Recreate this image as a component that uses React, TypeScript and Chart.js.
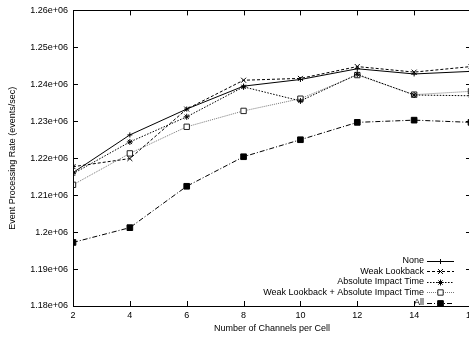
import React, { useEffect, useRef } from "react";
import { Chart, registerables } from "chart.js";
import { drawPoint } from "chart.js/helpers";

Chart.register(...registerables);

const channels = [2, 4, 6, 8, 10, 12, 14, 16];
const seriesNone = [1216100, 1226300, 1233300, 1239500, 1241300, 1244200, 1242800, 1243500];
const seriesWeak = [1217700, 1219900, 1233300, 1241100, 1241600, 1244800, 1243300, 1244800];
const seriesAbs = [1215800, 1224400, 1231200, 1239300, 1235500, 1242700, 1237100, 1236900];
const seriesWeakAbs = [1212800, 1221300, 1228500, 1232800, 1236100, 1242500, 1237200, 1238100];
const seriesAll = [1197200, 1201200, 1212400, 1220400, 1225000, 1229700, 1230300, 1229700];
const seriesNames = [
  "None",
  "Weak Lookback",
  "Absolute Impact Time",
  "Weak Lookback + Absolute Impact Time",
  "All",
];
const yTicks = [1180000, 1190000, 1200000, 1210000, 1220000, 1230000, 1240000, 1250000, 1260000];
const xTicks = [2, 4, 6, 8, 10, 12, 14, 16];

const FONT = "'Liberation Sans', Arial, Helvetica, sans-serif";

function fmt(v: number): string {
  return v.toExponential().replace(/e\+(\d)$/, "e+0$1");
}

const gnuplotPlugin = {
  id: "gnuplotDeco",
  afterDatasetsDraw(chart: any) {
    const { ctx, chartArea: a, scales } = chart;
    const xs = scales.x;
    const ys = scales.y;
    ctx.save();
    ctx.strokeStyle = "#000";
    ctx.lineWidth = 1;
    ctx.setLineDash([]);
    ctx.strokeRect(Math.round(a.left) + 0.5, Math.round(a.top) + 0.5, Math.round(a.right - a.left), Math.round(a.bottom - a.top));
    const tl = 5;
    ctx.beginPath();
    for (const v of yTicks) {
      const y = Math.round(ys.getPixelForValue(v)) + 0.5;
      ctx.moveTo(a.left, y);
      ctx.lineTo(a.left + tl, y);
      ctx.moveTo(a.right, y);
      ctx.lineTo(a.right - tl, y);
    }
    for (const v of xTicks) {
      const x = Math.round(xs.getPixelForValue(v)) + 0.5;
      ctx.moveTo(x, a.bottom);
      ctx.lineTo(x, a.bottom - tl);
      ctx.moveTo(x, a.top);
      ctx.lineTo(x, a.top + tl);
    }
    ctx.stroke();

    // legend
    const textRight = 424;
    const sx0 = 427;
    const sx1 = 454;
    const rowY0 = 260.5;
    const rowH = 10.6;
    ctx.font = `9px ${FONT}`;
    ctx.textAlign = "right";
    ctx.textBaseline = "middle";
    chart.data.datasets.forEach((ds: any, i: number) => {
      const y = rowY0 + i * rowH;
      ctx.fillStyle = "#000";
      ctx.fillText(seriesNames[i], textRight, y);
      ctx.save();
      ctx.strokeStyle = ds.borderColor;
      ctx.lineWidth = 1;
      ctx.setLineDash(ds.borderDash || []);
      ctx.beginPath();
      ctx.moveTo(sx0, Math.round(y) + 0.5);
      ctx.lineTo(sx1, Math.round(y) + 0.5);
      ctx.stroke();
      ctx.restore();
      ctx.save();
      ctx.setLineDash([]);
      ctx.strokeStyle = ds.pointBorderColor;
      ctx.fillStyle = ds.pointBackgroundColor;
      ctx.lineWidth = 1;
      drawPoint(ctx, { pointStyle: ds.pointStyle, radius: ds.pointRadius, rotation: 0, borderWidth: 1 }, (sx0 + sx1) / 2, Math.round(y) + 0.5);
      ctx.restore();
    });
    ctx.restore();
  },
};

function pts(arr: number[]) {
  return channels.map((c, i) => ({ x: c, y: arr[i] }));
}

export default function App() {
  const ref = useRef<HTMLCanvasElement>(null);
  useEffect(() => {
    if (!ref.current) return;
    const mk = (
      i: number,
      data: number[],
      color: string,
      dash: number[],
      style: string,
      radius: number,
      fill: string,
      pointBorder = "#000"
    ) => ({
      label: seriesNames[i],
      data: pts(data),
      borderColor: color,
      borderWidth: 1,
      borderDash: dash,
      pointStyle: style,
      pointRadius: radius,
      pointBorderColor: pointBorder,
      pointBackgroundColor: fill,
      pointBorderWidth: 1,
      tension: 0,
      fill: false,
    });
    const chart = new Chart(ref.current, {
      type: "line",
      data: {
        datasets: [
          mk(0, seriesNone, "#000", [], "cross", 2.5, "#000"),
          mk(1, seriesWeak, "#000", [3, 2], "crossRot", 3.5, "#000"),
          mk(2, seriesAbs, "#000", [1.5, 1.5], "star", 3, "#000"),
          mk(3, seriesWeakAbs, "#777", [1, 1], "rect", 3.8, "rgba(255,255,255,1)", "#222"),
          mk(4, seriesAll, "#000", [5, 2, 1, 2], "rect", 4, "#000"),
        ] as any,
      },
      options: {
        animation: false,
        responsive: false,
        events: [],
        layout: { padding: { left: 0, right: 8, top: 9, bottom: 0 } },
        plugins: { legend: { display: false }, tooltip: { enabled: false } },
        scales: {
          x: {
            type: "linear",
            min: 2,
            max: 16,
            grid: { display: false, drawTicks: false },
            border: { display: false },
            afterBuildTicks: (s: any) => {
              s.ticks = xTicks.map((v) => ({ value: v }));
            },
            afterFit: (s: any) => {
              s.height = 33;
            },
            ticks: {
              color: "#000",
              padding: 4,
              maxRotation: 0,
              autoSkip: false,
              font: { family: FONT, size: 9 },
            },
            title: {
              display: true,
              text: "Number of Channels per Cell",
              color: "#000",
              font: { family: FONT, size: 9 },
              padding: { top: 0, bottom: 4.6 },
            },
          },
          y: {
            type: "linear",
            min: 1180000,
            max: 1260000,
            grid: { display: false, drawTicks: false },
            border: { display: false },
            afterBuildTicks: (s: any) => {
              s.ticks = yTicks.map((v) => ({ value: v }));
            },
            afterFit: (s: any) => {
              s.width = 73;
            },
            ticks: {
              color: "#000",
              padding: 5,
              autoSkip: false,
              font: { family: FONT, size: 9 },
              callback: (v: any) => fmt(Number(v)),
            },
            title: {
              display: true,
              text: "Event Processing Rate (events/sec)",
              color: "#000",
              font: { family: FONT, size: 9 },
              padding: { top: 7.6, bottom: 0 },
            },
          },
        },
      } as any,
      plugins: [gnuplotPlugin],
    });
    return () => chart.destroy();
  }, []);
  return (
    <div
      style={{
        position: "fixed",
        left: 0,
        top: 0,
        width: 469,
        height: 339,
        overflow: "hidden",
        background: "#fff",
      }}
    >
      <canvas ref={ref} width={480} height={339} style={{ display: "block", width: 480, height: 339 }} />
    </div>
  );
}
